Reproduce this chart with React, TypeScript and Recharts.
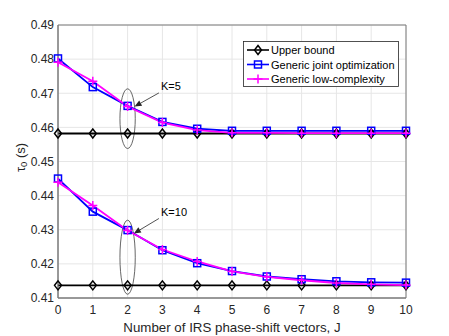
import {
  LineChart,
  Line,
  XAxis,
  YAxis,
  CartesianGrid,
  Legend,
  Label,
  ReferenceArea,
  ReferenceLine,
  ReferenceDot,
} from "recharts";

const J = [0, 1, 2, 3, 4, 5, 6, 7, 8, 9, 10];

// K = 5
const upperK5 = [0.4582, 0.4582, 0.4582, 0.4582, 0.4582, 0.4582, 0.4582, 0.4582, 0.4582, 0.4582, 0.4582];
const jointK5 = [0.4802, 0.4718, 0.4663, 0.4616, 0.4596, 0.459, 0.459, 0.459, 0.459, 0.459, 0.459];
const lowK5 = [0.4791, 0.4735, 0.4661, 0.4614, 0.4592, 0.4584, 0.4584, 0.4583, 0.4583, 0.4583, 0.4583];

// K = 10
const upperK10 = [0.4137, 0.4137, 0.4137, 0.4137, 0.4137, 0.4137, 0.4137, 0.4137, 0.4137, 0.4137, 0.4137];
const jointK10 = [0.445, 0.4353, 0.4299, 0.424, 0.4202, 0.4179, 0.4163, 0.4155, 0.4149, 0.4146, 0.4145];
const lowK10 = [0.4439, 0.4371, 0.4298, 0.4242, 0.4207, 0.4178, 0.4162, 0.4152, 0.4144, 0.414, 0.4138];

const yTicks = [0.41, 0.42, 0.43, 0.44, 0.45, 0.46, 0.47, 0.48, 0.49];

const rows = J.map((j, i) => ({
  j,
  upperK5: upperK5[i],
  jointK5: jointK5[i],
  lowK5: lowK5[i],
  upperK10: upperK10[i],
  jointK10: jointK10[i],
  lowK10: lowK10[i],
}));

const FONT = '"Liberation Sans", Arial, Helvetica, sans-serif';
const TXT = "#262626";

type Kind = "diamond" | "square" | "plus";

function marker(kind: Kind, cx: number, cy: number, key?: string) {
  if (kind === "diamond") {
    return (
      <path
        key={key}
        d={`M${cx},${cy - 4.5} L${cx + 3.5},${cy} L${cx},${cy + 4.5} L${cx - 3.5},${cy} Z`}
        fill="none"
        stroke="#000"
        strokeWidth={1.5}
      />
    );
  }
  if (kind === "square") {
    return (
      <rect
        key={key}
        x={cx - 3.5}
        y={cy - 3.5}
        width={7}
        height={7}
        fill="none"
        stroke="#0000ff"
        strokeWidth={1.5}
      />
    );
  }
  return (
    <path
      key={key}
      d={`M${cx - 4.5},${cy} L${cx + 4.5},${cy} M${cx},${cy - 4.5} L${cx},${cy + 4.5}`}
      stroke="#ff00ff"
      strokeWidth={1.5}
    />
  );
}

const dotFor = (kind: Kind) => (p: any) =>
  marker(kind, p.cx, p.cy, `${kind}-${p.dataKey}-${p.index}`);

const legendItems: { label: string; kind: Kind; color: string }[] = [
  { label: "Upper bound", kind: "diamond", color: "#000" },
  { label: "Generic joint optimization", kind: "square", color: "#0000ff" },
  { label: "Generic low-complexity", kind: "plus", color: "#ff00ff" },
];

function LegendBox() {
  return (
    <svg width={156} height={46} style={{ display: "block" }}>
      <rect x={0.5} y={0.5} width={155} height={45} fill="#fff" stroke="#262626" strokeWidth={0.8} />
      {legendItems.map((it, i) => {
        const y = 9 + i * 14.5;
        return (
          <g key={it.label}>
            <line x1={4} x2={26} y1={y} y2={y} stroke={it.color} strokeWidth={1.6} />
            {marker(it.kind, 15, y)}
            <text x={28} y={y} dominantBaseline="central" fontSize={11} fontFamily={FONT} fill="#000">
              {it.label}
            </text>
          </g>
        );
      })}
    </svg>
  );
}

function EllipseShape(p: any) {
  return (
    <ellipse
      cx={p.x + p.width / 2}
      cy={p.y + p.height / 2}
      rx={Math.abs(p.width) / 2}
      ry={Math.abs(p.height) / 2}
      fill="none"
      stroke="#404040"
      strokeWidth={0.8}
    />
  );
}

function ArrowShape(p: any) {
  const { x1, y1, x2, y2 } = p;
  const a = Math.atan2(y2 - y1, x2 - x1);
  const len = 7;
  const w = 3;
  const bx = x2 - len * Math.cos(a);
  const by = y2 - len * Math.sin(a);
  const px = -Math.sin(a) * w;
  const py = Math.cos(a) * w;
  return (
    <g>
      <line x1={x1} y1={y1} x2={bx} y2={by} stroke="#262626" strokeWidth={0.8} />
      <path
        d={`M${x2},${y2} L${bx + px},${by + py} L${bx - px},${by - py} Z`}
        fill="#262626"
      />
    </g>
  );
}

const textShape = (label: string) => (p: any) => (
  <text x={p.cx} y={p.cy} dominantBaseline="central" fontSize={11} fontFamily={FONT} fill="#000">
    {label}
  </text>
);

function YLabel(props: any) {
  const vb = props.viewBox || { x: 0, y: 25, width: 58, height: 273 };
  const cx = vb.x + 20;
  const cy = vb.y + vb.height / 2 - 4;
  return (
    <text
      transform={`translate(${cx},${cy}) rotate(-90)`}
      textAnchor="middle"
      dominantBaseline="central"
      fontSize={13}
      fontFamily={FONT}
      fill={TXT}
    >
      τ<tspan fontSize={9.5} dy={3}>0</tspan>
      <tspan dy={-3}> (s)</tspan>
    </text>
  );
}

export default function App() {
  return (
    <div style={{ position: "absolute", left: 0, top: 0, width: 449, height: 336, background: "#fff" }}>
      <LineChart
        width={449}
        height={336}
        data={rows}
        margin={{ top: 25, right: 43, bottom: 0, left: 0 }}
        style={{ fontFamily: FONT }}
      >
        <CartesianGrid stroke="#e6e6e6" strokeWidth={1} />
        <XAxis
          type="number"
          dataKey="j"
          domain={[0, 10]}
          ticks={J}
          height={38}
          tickLine={false}
          tickSize={0}
          tickMargin={7}
          axisLine={{ stroke: "#7a7a7a" }}
          tick={{ fontSize: 12, fill: TXT, fontFamily: FONT }}
        >
          <Label
            value="Number of IRS phase-shift vectors, J"
            position="insideBottom"
            offset={4}
            style={{ fontSize: 13.3, fill: TXT, fontFamily: FONT }}
          />
        </XAxis>
        <YAxis
          type="number"
          domain={[0.41, 0.49]}
          ticks={yTicks}
          width={58}
          tickLine={false}
          tickSize={0}
          tickMargin={4}
          axisLine={{ stroke: "#7a7a7a" }}
          tickFormatter={(v: number) => v.toFixed(2)}
          tick={{ fontSize: 12, fill: TXT, fontFamily: FONT }}
        >
          <Label content={YLabel} />
        </YAxis>
        <ReferenceArea
          x1={0}
          x2={10}
          y1={0.41}
          y2={0.49}
          fill="none"
          stroke="#7a7a7a"
          strokeWidth={1}
          ifOverflow="visible"
        />

        <Line dataKey="upperK5" stroke="#000" strokeWidth={1.8} dot={dotFor("diamond")} isAnimationActive={false} />
        <Line dataKey="upperK10" stroke="#000" strokeWidth={1.8} dot={dotFor("diamond")} isAnimationActive={false} />
        <Line dataKey="jointK5" stroke="#0000ff" strokeWidth={1.8} dot={dotFor("square")} isAnimationActive={false} />
        <Line dataKey="jointK10" stroke="#0000ff" strokeWidth={1.8} dot={dotFor("square")} isAnimationActive={false} />
        <Line dataKey="lowK5" stroke="#ff00ff" strokeWidth={1.8} dot={dotFor("plus")} isAnimationActive={false} />
        <Line dataKey="lowK10" stroke="#ff00ff" strokeWidth={1.8} dot={dotFor("plus")} isAnimationActive={false} />

        <ReferenceArea x1={1.78} x2={2.22} y1={0.4538} y2={0.4713} shape={EllipseShape} ifOverflow="visible" />
        <ReferenceArea x1={1.78} x2={2.22} y1={0.4111} y2={0.4328} shape={EllipseShape} ifOverflow="visible" />
        <ReferenceLine
          segment={[
            { x: 2.9, y: 0.4701 },
            { x: 2.2, y: 0.4661 },
          ]}
          shape={ArrowShape}
          ifOverflow="visible"
        />
        <ReferenceLine
          segment={[
            { x: 2.9, y: 0.4333 },
            { x: 2.18, y: 0.4289 },
          ]}
          shape={ArrowShape}
          ifOverflow="visible"
        />
        <ReferenceDot x={2.96} y={0.472} r={0} shape={textShape("K=5")} ifOverflow="visible" />
        <ReferenceDot x={2.96} y={0.4351} r={0} shape={textShape("K=10")} ifOverflow="visible" />

        <Legend
          layout="vertical"
          align="center"
          verticalAlign="middle"
          content={() => <LegendBox />}
          wrapperStyle={{ left: 243, top: 41, width: 156, height: 46 }}
        />
      </LineChart>
    </div>
  );
}
